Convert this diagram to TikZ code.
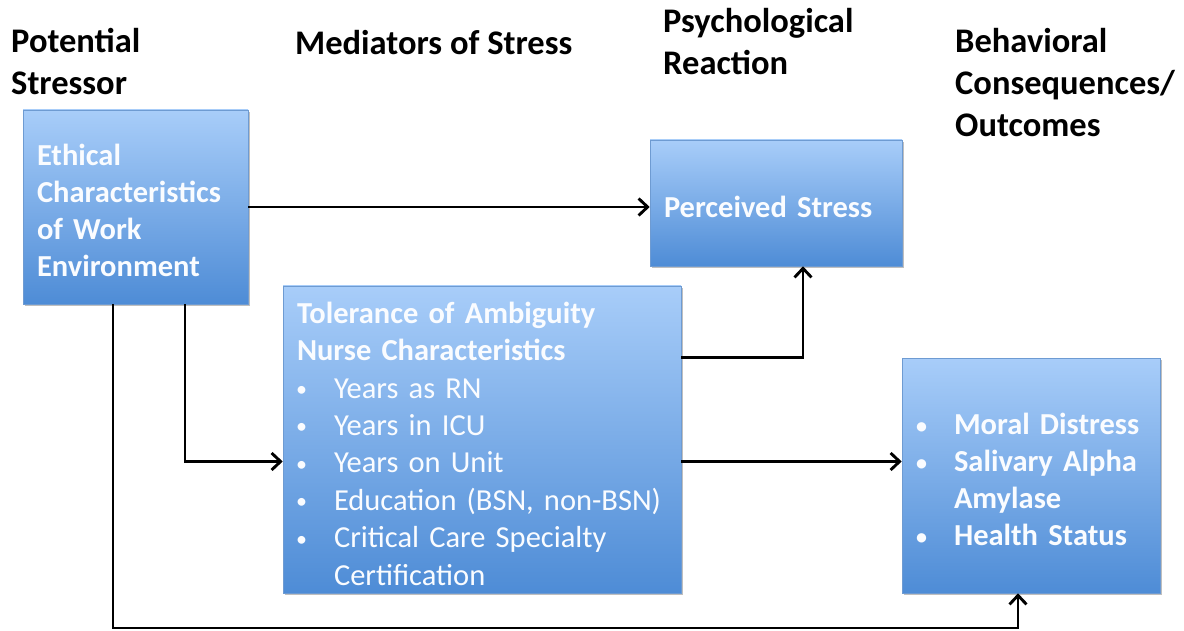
\documentclass[tikz,border=0pt]{standalone}
\usepackage{fontspec}
\setmainfont{Carlito}
\usetikzlibrary{arrows.meta,shadows}
\definecolor{boxtop}{RGB}{168,205,249}
\definecolor{boxbot}{RGB}{78,140,214}
\definecolor{boxline}{RGB}{110,155,210}
\definecolor{txt}{RGB}{250,252,255}
\newcommand{\bul}{\makebox[37pt][l]{\hspace{-1pt}\raisebox{1.5pt}{\fontsize{22}{22}\selectfont\textbullet}}}
\newcommand{\ind}{\hspace*{37pt}}
\newcommand{\tallstrut}[1]{\rule{0pt}{#1}}
\tikzset{
  box/.style={draw=boxline, line width=0.6pt, top color=boxtop, bottom color=boxbot,
    rectangle, inner xsep=14pt, inner ysep=0pt, align=left, text=txt,
    font=\fontsize{30.5}{37}\selectfont,
    drop shadow={shadow xshift=1.5pt, shadow yshift=-2pt, opacity=0.25, fill=black}},
  header/.style={anchor=base west, inner sep=0pt, align=left,
    font=\fontsize{34.5}{42}\selectfont\bfseries},
  conn/.style={draw=black, line width=2.9pt, -{Straight Barb[length=9pt,width=17pt]}}
}
\begin{document}
\begin{tikzpicture}[x=1pt,y=-1pt]
\useasboundingbox (0,0) rectangle (1184,631);
% headers (anchored at baseline of last line)
\node[header] (h1) at (11,95) {Potential\\Stressor};
\node[header] (h2) at (295,55) {Mediators of Stress};
\node[header] (h3) at (663,75) {Psychological\\Reaction};
\node[header] (h4) at (955,137) {Behavioral\\Consequences/\\Outcomes};
% boxes
\node[box, minimum width=225pt, minimum height=194pt, text width=197pt] (A) at (135.5,207)
  {\bfseries\tallstrut{27.5pt}Ethical\\Characteristics\\of Work\\Environment};
\node[box, minimum width=252pt, minimum height=126pt, text width=224pt] (P) at (776,203)
  {\bfseries\tallstrut{29.5pt}Perceived Stress};
\node[box, minimum width=398pt, minimum height=307pt, text width=370pt,
      font=\fontsize{30.5}{37.4}\selectfont] (T) at (482,439.5)
  {\tallstrut{29.5pt}\textbf{Tolerance of Ambiguity}\\
   \textbf{Nurse Characteristics}\\
   \bul Years as RN\\
   \bul Years in ICU\\
   \bul Years on Unit\\
   \bul Education (BSN, non-BSN)\\
   \bul Critical Care Specialty\\
   \ind Certification};
\node[box, minimum width=258pt, minimum height=235pt, text width=228pt, inner xsep=15pt] (O) at (1031,475.5)
  {\bfseries\tallstrut{29.5pt}\bul Moral Distress\\
   \bul Salivary Alpha\\
   \ind Amylase\\
   \bul Health Status};
% connectors
\coordinate (bot) at (500,628);
\coordinate (t2) at ([yshift=-22pt]T.east);
\draw[conn] (A.east) -- (P.west |- A.east);
\draw[conn] ([yshift=82pt]T.east) -| ([xshift=27pt]P.south);
\draw[conn] ([xshift=49.5pt]A.south) |- ([yshift=-22pt]T.west);
\draw[conn] (t2) -- (O.west |- t2);
\draw[conn] ([xshift=-22.5pt]A.south) |- (bot) -| ([xshift=-13pt]O.south);
\end{tikzpicture}
\end{document}
